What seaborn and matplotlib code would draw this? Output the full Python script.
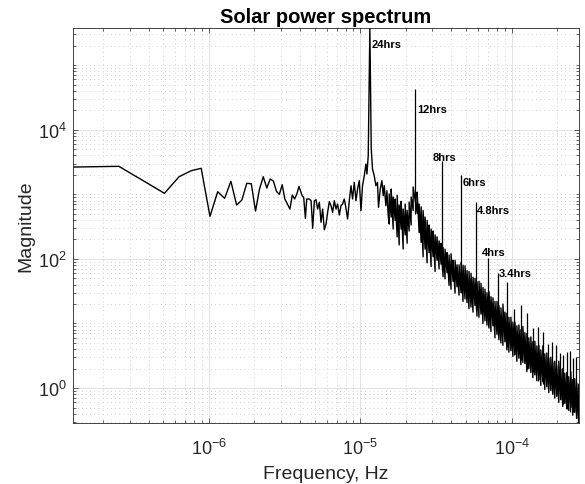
# solar_spectrum.py
# log-log magnitude spectrum of the solar power series, MATLAB-ish look

import numpy as np
import pandas as pd
import matplotlib
matplotlib.use("Agg")
import matplotlib.pyplot as plt
import matplotlib.ticker as mticker
import seaborn as sns

# --- data (frequencies in micro-Hz) ---
# lowest FFT bins, one value per bin
low_freq_uhz = [0.127, 0.254, 0.381, 0.508, 0.635, 0.762, 0.889, 1.016, 1.143, 1.270,
                1.397, 1.524, 1.651, 1.778, 1.905, 2.032, 2.159, 2.286, 2.413, 2.540,
                2.667, 2.794, 2.921, 3.048, 3.175, 3.302, 3.429, 3.556, 3.683, 3.810, 3.937]
low_mag = [2646, 2713, 1549, 1036, 1873, 2317, 2527, 456, 1097, 867,
           1589, 683, 816, 1480, 1459, 551, 1209, 1873, 1252, 1726,
           1607, 1113, 1000, 1409, 846, 708, 592, 975, 846, 1011, 1330]

# middle part, up to and around the 24 hour peak
mid_freq_uhz = [4.128, 4.229, 4.340, 4.426, 4.611, 4.732, 4.848, 4.975, 5.105, 5.230,
                5.367, 5.507, 5.642, 5.789, 5.942, 6.087, 6.247, 6.410, 6.568, 6.740,
                6.916, 7.085, 7.271, 7.461, 7.644, 7.844, 8.049, 8.247, 8.463, 8.684,
                8.897, 9.130, 9.369, 9.599, 9.850, 10.11, 10.35, 10.63, 10.90, 11.07,
                11.29, 11.574, 11.82, 12.05, 12.37, 12.69, 13.00, 13.20, 13.55, 13.90,
                14.18, 14.40, 14.77, 15.00, 15.30]
mid_mag = [951, 899, 425, 846, 846, 796, 298, 796, 825, 592,
           752, 369, 592, 283, 347, 527, 768, 666, 527, 796,
           592, 708, 478, 666, 708, 846, 607, 415, 796, 1359,
           846, 1534, 796, 1209, 1624, 557, 1359, 1941, 2944, 2062,
           3959, 380000, 5025, 2464, 1941, 1359, 1534, 629, 1209, 1624,
           951, 1359, 666, 1136, 466]

# high frequencies: the noise is a dense band, kept as its top / bottom edge
band_freq_uhz = [15.53, 16.01, 16.50, 17.01, 17.53, 18.08, 18.63, 19.21, 19.80, 20.41,
                 21.04, 21.69, 22.36, 23.76, 24.49, 25.25, 26.02, 26.82, 27.65, 28.50,
                 29.38, 30.29, 31.22, 32.18, 33.18, 34.20, 35.25, 36.34, 37.46, 38.62,
                 39.81, 41.03, 42.30, 43.60, 44.95, 46.33, 47.76, 49.23, 50.75, 52.31,
                 53.93, 55.59, 57.30, 59.07, 60.88, 62.76, 64.70, 66.69, 68.75, 70.87,
                 73.05, 75.30, 77.62, 80.02, 82.48, 85.03, 87.65, 90.35, 93.14, 96.00,
                 98.96, 102.0, 105.2, 108.4, 111.7, 115.2, 118.7, 122.4, 126.2, 130.0,
                 134.0, 138.2, 142.4, 146.8, 151.4, 156.0, 160.8, 165.8, 170.9, 176.2,
                 181.6, 187.2, 193.0, 198.9, 205.1, 211.4, 217.9, 224.6, 231.5, 238.7,
                 246.0, 253.6, 261.4, 269.5, 277.8]
band_hi = [1011, 1209, 910, 846, 970, 680, 780, 592, 708, 560,
           760, 910, 1300, 1080, 708, 640, 560, 445, 395, 335,
           290, 270, 235, 220, 190, 175, 150, 142, 125, 115,
           120, 95, 95, 81, 81, 88, 80, 78, 66, 64,
           60, 52, 50, 44, 45, 42, 36, 34, 30, 31,
           26, 25, 22, 22, 19, 17.5, 20, 15, 14.5, 12.5,
           12.5, 10.5, 10.5, 9.2, 9.5, 8.0, 9.0, 7.2, 7.0, 6.0,
           6.2, 5.2, 5.3, 4.5, 4.6, 3.9, 4.5, 3.4, 3.5, 2.9,
           3.0, 2.55, 2.6, 2.2, 2.6, 1.95, 2.0, 1.7, 1.75, 1.5,
           1.8, 1.35, 1.4, 1.2, 1.15]
band_lo = [347, 445, 290, 395, 220, 165, 290, 142, 235, 175,
           270, 335, 560, 510, 255, 180, 108, 142, 87, 125,
           76, 108, 64, 95, 70, 83, 53, 49, 61, 39,
           34, 45, 29.5, 37, 27.5, 30, 22, 24, 21, 17,
           18, 15, 19, 13, 12.5, 14, 10, 11, 9.5, 8.5,
           7.5, 9.2, 6.0, 6.8, 5.6, 5.0, 4.6, 5.2, 3.9, 3.6,
           3.8, 3.1, 3.3, 2.6, 2.9, 2.3, 2.5, 2.4, 1.8, 2.0,
           1.75, 1.45, 1.6, 1.3, 1.35, 1.1, 1.25, 0.95, 1.05, 0.85,
           0.92, 0.8, 0.7, 0.75, 0.6, 0.66, 0.52, 0.58, 0.48, 0.45,
           0.5, 0.38, 0.42, 0.34, 0.288]

# daily harmonics sticking out of the band
spike_period_hrs = [12, 8, 6, 4.8, 4, 3.429, 3, 2.667, 2.4, 2.182, 2,
                    1.846, 1.714, 1.6, 1.5, 1.412, 1.333, 1.263, 1.2, 1.143, 1.091, 1.043]
spike_peak = [42650, 3240, 2010, 767, 103, 60, 44, 16.5, 19.3, 14.3, 8.5,
              8.7, 7.3, 4.8, 5.2, 4.6, 3.5, 3.2, 3.6, 3.7, 2.9, 3.0]
spike_base = [495, 65, 31, 16, 9.3, 6.6, 4.4, 3.3, 2.7, 2.0, 1.8,
              1.3, 1.15, 0.97, 0.87, 0.75, 0.68, 0.57, 0.47, 0.43, 0.43, 0.35]

# peak labels
label_text = ['24hrs', '12hrs', '8hrs', '6hrs', '4.8hrs', '4hrs', '3.4hrs']
label_freq_uhz = [11.87, 23.65, 30.28, 47.25, 58.8, 64.0, 82.5]
label_mag = [1.886e5, 1.879e4, 3432, 1409, 514, 115, 55]


def build_series():
    # band edges are walked bottom -> top at each frequency
    band_f = np.repeat(band_freq_uhz, 2)
    band_m = np.column_stack([band_lo, band_hi]).ravel()
    freq = np.concatenate([low_freq_uhz, mid_freq_uhz, band_f]) * 1e-6
    mag = np.concatenate([low_mag, mid_mag, band_m])
    return pd.DataFrame({'freq': freq, 'mag': mag})


def plot_spectrum():
    df = build_series()

    sns.set_theme(style="ticks")
    plt.rcParams['font.family'] = ['Liberation Sans', 'DejaVu Sans']
    plt.rcParams['mathtext.fontset'] = 'custom'
    plt.rcParams['mathtext.rm'] = 'Liberation Sans'
    plt.rcParams['mathtext.it'] = 'Liberation Sans:italic'
    plt.rcParams['mathtext.bf'] = 'Liberation Sans:bold'

    dark = '#262626'
    fig = plt.figure(figsize=(5.85, 4.85), dpi=100)
    ax = fig.add_axes([0.1253, 0.1258, 0.864, 0.815])
    ax.set_xscale('log')
    ax.set_yscale('log')

    sns.lineplot(data=df, x='freq', y='mag', estimator=None, sort=False,
                 color='black', linewidth=1.0, ax=ax)

    spike_freq = 1.0 / (np.array(spike_period_hrs) * 3600.0)
    ax.vlines(spike_freq, spike_base, spike_peak, colors='black', linewidth=0.9)

    for txt, f, m in zip(label_text, label_freq_uhz, label_mag):
        ax.text(f * 1e-6, m, txt, fontsize=8, fontweight='bold',
                ha='left', va='baseline', color='black')

    ax.set_xlim(low_freq_uhz[0] * 1e-6, band_freq_uhz[-1] * 1e-6)
    ax.set_ylim(min(band_lo), max(mid_mag))

    # ticks: decades on x, every second decade labelled on y
    ax.xaxis.set_major_locator(mticker.LogLocator(base=10, numticks=20))
    ax.xaxis.set_minor_locator(mticker.LogLocator(base=10, subs=np.arange(2, 10), numticks=20))
    ax.yaxis.set_major_locator(mticker.FixedLocator([1, 1e2, 1e4]))
    ax.yaxis.set_minor_locator(mticker.LogLocator(base=10, subs=np.arange(1, 10), numticks=20))
    ax.xaxis.set_major_formatter(mticker.LogFormatterSciNotation())
    ax.yaxis.set_major_formatter(mticker.LogFormatterSciNotation())
    ax.xaxis.set_minor_formatter(mticker.NullFormatter())
    ax.yaxis.set_minor_formatter(mticker.NullFormatter())

    ax.tick_params(which='both', direction='in', top=True, right=True,
                   color=dark, labelcolor=dark, width=0.5)
    ax.tick_params(which='major', length=3.6, labelsize=13)
    ax.tick_params(which='minor', length=2.4)
    ax.tick_params(axis='x', which='major', pad=11)
    ax.tick_params(axis='y', which='major', pad=4.5)

    ax.set_axisbelow(True)
    ax.grid(which='major', color='#dedede', linewidth=0.6, linestyle='-')
    ax.grid(which='minor', color='#c4c4c4', linewidth=0.6, linestyle=(0, (1, 4)))

    for side in ax.spines.values():
        side.set_visible(True)
        side.set_color(dark)
        side.set_linewidth(0.6)

    ax.set_title('Solar power spectrum', fontsize=14.5, fontweight='bold',
                 color='black', pad=4)
    ax.set_xlabel('Frequency, Hz', fontsize=14, color=dark, labelpad=5)
    ax.set_ylabel('Magnitude', fontsize=14, color=dark, labelpad=3)

    fig.savefig('out.png', dpi=100)
    plt.close(fig)


if __name__ == '__main__':
    plot_spectrum()
